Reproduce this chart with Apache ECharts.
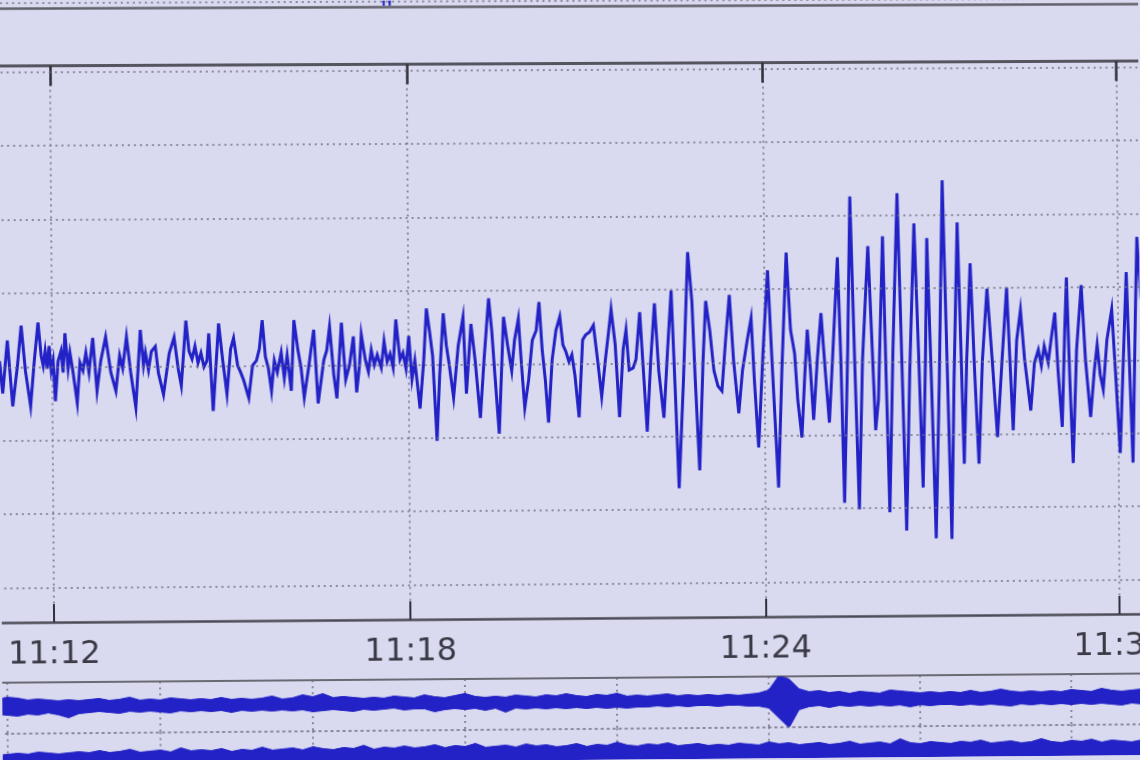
<!DOCTYPE html>
<html><head><meta charset="utf-8">
<script src="https://cdn.jsdelivr.net/npm/echarts@6.0.0/dist/echarts.min.js"></script>
<style>
html,body{margin:0;padding:0;background:#d9d9f0;overflow:hidden;}
#c{width:1140px;height:760px;transform-origin:0 0;}
</style></head><body><div id="c"></div>
<script>
// ---- DATA ----
// main seismogram: time in seconds after 11:12:00, amplitude in counts
const mainT = [-53,-50,-45,-40,-35,-31,-27,-22,-18,-14,-11,-9,-7,-5,-3,-1,1,3,6,9,11,13,16,18,21,25,28,31,34,37,41,45,49,54,59,64,68,71,75,79,84,89,92,94,97,
100,104,107,112,118,123,127,130,135,138,141,144,147,150,153,156,158,162,168,172,176,180,183,187,190,193,198,202,206,209,212,215,218,221,224,227,231,234,237,241,244,248,251,254,259,261,264,268,274,277,280,284,287,292,296,300,304,307,310,312,316,319,322,325,328,332,335,338,341,344,347,351,
354,357,360,363,366,371,375,378,381,384,388,391,395,398,401,405,410,415,418,423,427,432,436,441,444,447,451,456,460,464,467,471,474,477,481,485,489,492,495,498,501,505,509,513,516,519,522,525,528,532,536,539,543,547,551,555,559,562,565,569,573,577,580,583,587,590,594,601,605,
609,613,618,622,626,630,633,638,643,647,650,654,658,661,665,669,673,677,681,685,689,694,698,703,707,710,714,719,724,728,734,738,743,747,751,754,758,761,764,767,770,774,778,782,786,790,795,798,801,805,808,812,816,820,826,830,833,836,841,844,847,851,856,
860,864,868,873,877,881,884,886,890,894,898,902,906,910,913,917,920,923,926,930,934,938,942,947,952,957,962,967,970,973,977,981,985,991,995,999,1002,1005,1009,1012,1016,1019,1023,1026,1028,1031,1034,1038,1043,1047,1052,1056,1059,1062,1065,1069,1074,1078,1082,1086,1089,1092,1095,1098,1100,1104];
const mainV = [6,-27,27,-40,1,42,-4,-40,6,45,11,1,16,-2,21,-4,6,-35,6,16,-6,34,-2,14,-6,-37,4,-4,14,-6,29,-25,6,30,-6,-25,11,-2,30,-6,-42,37,1,14,-4,
15,20,-7,-29,13,29,-3,-20,46,15,7,20,3,13,-1,5,33,-46,43,5,-29,17,28,0,-7,-15,-33,0,5,17,46,9,-3,-26,5,-7,13,-13,10,-26,46,15,-3,-33,0,15,36,-39,5,15,39,-10,-34,43,-15,0,29,-28,-1,31,5,-7,15,0,10,-3,24,3,11,-3,46,5,
12,-4,29,-15,4,-45,4,57,34,9,-78,-12,52,19,-2,-34,19,48,-30,41,4,-55,4,67,34,-12,-71,48,19,-7,24,46,-2,-45,-17,24,34,63,14,-17,-60,4,34,48,19,12,2,9,-12,-55,24,29,32,39,4,-34,4,29,55,19,-55,14,34,-7,-5,4,52,-70,4,
61,-8,-56,12,74,-39,-128,-18,113,63,-18,-110,2,63,33,-8,-24,-29,23,69,2,-52,-8,23,45,-18,-87,12,94,2,-128,-8,112,33,9,-39,-77,-18,33,-8,-59,2,50,-8,-62,12,107,2,-144,12,169,2,-151,2,118,12,-70,-39,128,-18,-154,12,172,
1,-173,-10,141,11,-129,1,126,-20,-181,-20,185,1,-182,-20,142,21,-105,1,100,-10,-105,1,74,1,-78,1,75,1,-71,21,52,1,-51,-2,11,-5,15,-2,21,49,-10,-68,31,85,-20,-105,11,77,1,-58,-10,16,-15,-30,21,52,-20,-95,11,90,-10,-105,41,126,62];
const mainTickLabels = ['11:06','11:12','11:18','11:24','11:30','11:36'];
const gridLevels = [300,225,150,75,0,-75,-150,-225];

// lower helicorder rows: envelope (max/min) every 4 s
const lowerStart = -4, lowerStep = 4;
const trace2Hi = [7,9,8,6,7,6,5,6,5,6, 7,5,6,8,5,6,5,7,6,5, 6,5,7,5,6,5,6,8,5,6, 9,7,10,6,7,6,5,6,5,7,
 6,5,8,6,5,7,9,6,5,6, 5,7,6,5,7,6,8,6,5,7, 6,8,5,6,5,6,7,5,6,5, 6,5,6,5,6,7,10,24,21,11,
 8,9,7,8,6,8,7,6,9,8, 7,6,7,6,7,6,8,6,7,9, 7,6,7,6,7,6,8,7,6,9, 7,6,7,8,6,7];
const trace2Lo = [-8,-9,-10,-8,-9,-7,-9,-12,-8,-7, -6,-7,-8,-6,-7,-6,-7,-8,-6,-7, -6,-7,-6,-8,-6,-7,-6,-7,-6,-7, -6,-8,-7,-6,-7,-8,-6,-7,-6,-5,
 -7,-6,-6,-9,-7,-6,-7,-6,-8,-6, -10,-6,-7,-6,-7,-6,-7,-6,-7,-6, -7,-6,-7,-6,-6,-5,-6,-5,-6,-5, -5,-6,-5,-5,-6,-6,-8,-18,-28,-10,
 -7,-6,-8,-6,-7,-6,-7,-6,-7,-6, -8,-6,-7,-6,-6,-7,-6,-7,-6,-7, -8,-6,-7,-6,-7,-6,-7,-6,-7,-6, -7,-8,-6,-7,-6,-7];
const trace3Hi = [3,4,5,4,6,5,4,5,6,5,7, 5,6,8,5,6,7,5,9,6,7, 6,8,5,7,6,9,6,7,8,6, 9,7,6,8,7,10,6,8,7,9,
 7,8,10,7,9,8,11,7,8,9, 7,10,8,9,7,8,10,7,9,8, 11,8,7,9,8,10,7,8,9,7, 8,7,9,8,7,10,8,9,7,8,
 9,7,8,10,7,8,9,7,12,8, 7,9,8,7,9,8,10,7,8,9, 7,8,11,8,7,9,8,10,7,9, 8,7,9,8,7];
// tips of the trace in the row above (top strip)
const topT = [325,334,337,339,341,343,346,355];
const topV = [40,40,-19,40,40,-19,40,40];

// ---- photo perspective (screen photographed at a slight angle) ----
function homography(src, dst){
  const A=[], b=[];
  for (let i=0;i<4;i++){
    const [x,y]=src[i], [u,v]=dst[i];
    A.push([x,y,1,0,0,0,-x*u,-y*u]); b.push(u);
    A.push([0,0,0,x,y,1,-x*v,-y*v]); b.push(v);
  }
  const n=8;
  for (let c=0;c<n;c++){
    let p=c; for(let r=c+1;r<n;r++) if(Math.abs(A[r][c])>Math.abs(A[p][c])) p=r;
    [A[c],A[p]]=[A[p],A[c]]; [b[c],b[p]]=[b[p],b[c]];
    for(let r=0;r<n;r++){ if(r===c) continue; const f=A[r][c]/A[c][c];
      for(let k=c;k<n;k++) A[r][k]-=f*A[c][k]; b[r]-=f*b[c]; }
  }
  const h=b.map((v,i)=>v/A[i][i]);
  return `matrix3d(${h[0]},${h[3]},0,${h[6]},${h[1]},${h[4]},0,${h[7]},0,0,1,0,${h[2]},${h[5]},0,1)`;
}
const el = document.getElementById('c');
el.style.transform = homography(
  [[0,63.5],[1140,63.5],[0,730],[1140,730]],
  [[-2.4,66.0],[1138.4,61.0],[2.6,734.8],[1141.8,725.2]]);

// ---- CHART ----
const BLUE = '#2222c6';
const dotted = {color:'#707082', width:1.5, type:[2,4]};
const mainData = mainT.map((t,i)=>[t, mainV[i]]);
const lowT = trace2Hi.map((_,i)=>lowerStart + i*lowerStep);
const mainLeft = -303.2, mainRight = -332.8;
const hidden = {axisLine:{show:false}, axisTick:{show:false}, axisLabel:{show:false}, splitLine:{show:false}};

function bandItem(params, api){
  const pts=[];
  for (let i=0;i<lowT.length;i++) pts.push(api.coord([lowT[i], trace2Hi[i]]));
  for (let i=lowT.length-1;i>=0;i--) pts.push(api.coord([lowT[i], trace2Lo[i]]));
  return {type:'polygon', shape:{points:pts}, style:{fill:BLUE, stroke:BLUE, lineWidth:1}};
}

const chart = echarts.init(el, null, {renderer:'canvas'});
chart.setOption({
  backgroundColor:'#d9d9f0',
  animation:false,
  grid:[
    {left:mainLeft, right:mainRight, top:63.5, height:554.5, outerBoundsMode:'none'},
    {left:-147, right:-81, top:678, height:50.5, outerBoundsMode:'none'},
    {left:-147, right:-81, top:728.5, height:50, outerBoundsMode:'none'},
    {left:mainLeft, right:mainRight, top:-40, height:46, outerBoundsMode:'none'}
  ],
  xAxis:[
    {gridIndex:0, type:'value', min:-360, max:1440, interval:360, position:'bottom',
     axisLine:{onZero:false, lineStyle:{color:'#4b4b57', width:2.5}},
     axisTick:{show:true, inside:true, length:18, lineStyle:{color:'#30303a', width:2}},
     axisLabel:{show:true, margin:17, fontSize:32, fontFamily:'DejaVu Sans', color:'#3a3a46',
       formatter:(v)=>mainTickLabels[Math.round((v+360)/360)]},
     splitLine:{show:true, lineStyle:dotted}},
    {gridIndex:0, type:'value', min:-360, max:1440, interval:360, position:'top',
     axisLine:{onZero:false, lineStyle:{color:'#55555f', width:3}},
     axisTick:{show:true, inside:true, length:20, lineStyle:{color:'#30303a', width:2.5}},
     axisLabel:{show:false}, splitLine:{show:false}},
    {gridIndex:1, type:'value', min:-60, max:480, interval:60, position:'top',
     axisLine:{onZero:false, lineStyle:{color:'#6a6a74', width:2}},
     axisTick:{show:false}, axisLabel:{show:false}, splitLine:{show:true, lineStyle:dotted}},
    {gridIndex:1, type:'value', min:-60, max:480, interval:60, position:'bottom',
     axisLine:{onZero:false, lineStyle:dotted},
     axisTick:{show:false}, axisLabel:{show:false}, splitLine:{show:false}},
    {gridIndex:2, type:'value', min:-60, max:480, interval:60, position:'top',
     axisLine:{show:false}, axisTick:{show:false}, axisLabel:{show:false}, splitLine:{show:true, lineStyle:dotted}},
    {gridIndex:3, type:'value', min:-360, max:1440, interval:360, position:'bottom',
     axisLine:{onZero:false, lineStyle:{color:'#60606a', width:2.5}},
     axisTick:{show:false}, axisLabel:{show:false}, splitLine:{show:false}}
  ],
  yAxis:[
    Object.assign({gridIndex:0, type:'value', min:-260, max:306}, hidden),
    Object.assign({gridIndex:1, type:'value', min:-27, max:23.5}, hidden),
    Object.assign({gridIndex:2, type:'value', min:-25, max:25}, hidden),
    Object.assign({gridIndex:3, type:'value', min:-20, max:26}, hidden)
  ],
  series:[
    {type:'line', xAxisIndex:0, yAxisIndex:0, z:1, data:[[-360,0]], symbol:'none', lineStyle:{opacity:0},
     markLine:{silent:true, symbol:['none','none'], label:{show:false}, lineStyle:dotted,
       data:gridLevels.map(v=>({yAxis:v}))}},
    {type:'line', xAxisIndex:0, yAxisIndex:0, z:3, data:mainData, symbol:'none',
     lineStyle:{color:BLUE, width:3, join:'miter'}},
    {type:'custom', coordinateSystem:'cartesian2d', xAxisIndex:2, yAxisIndex:1, z:3, clip:true,
     data:[[lowT[0], 0]], renderItem:bandItem},
    {type:'line', xAxisIndex:4, yAxisIndex:2, symbol:'none', z:3,
     data:lowT.map((t,i)=>[t, trace3Hi[i]]), lineStyle:{color:BLUE, width:1},
     areaStyle:{color:BLUE, opacity:1, origin:'start'}},
    {type:'line', xAxisIndex:5, yAxisIndex:3, symbol:'none',
     data:topT.map((t,i)=>[t, topV[i]]), lineStyle:{color:BLUE, width:2},
     markLine:{silent:true, symbol:['none','none'], label:{show:false}, lineStyle:dotted, data:[{yAxis:-15}]}}
  ]
});
</script></body></html>
